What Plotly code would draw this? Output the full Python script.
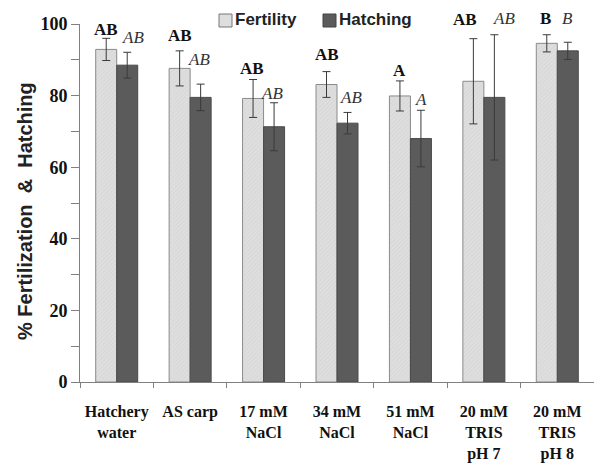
import plotly.graph_objects as go

categories = ["Hatchery<br>water", "AS carp", "17 mM<br>NaCl", "34 mM<br>NaCl",
              "51 mM<br>NaCl", "20 mM<br>TRIS<br>pH 7", "20 mM<br>TRIS<br>pH 8"]
fertility = [92.9, 87.6, 79.2, 83.1, 79.9, 84.0, 94.6]
fertility_err = [3.1, 4.9, 5.3, 3.6, 4.2, 11.9, 2.4]
hatching = [88.5, 79.5, 71.3, 72.3, 68.0, 79.5, 92.5]
hatching_err = [3.6, 3.7, 6.7, 3.0, 7.9, 17.5, 2.4]
fert_letters = ["AB", "AB", "AB", "AB", "A", "AB", "B"]
hatch_letters = ["AB", "AB", "AB", "AB", "A", "AB", "B"]
y_ticks = [0, 20, 40, 60, 80, 100]

# label placement (height of letter centres in axis units, pixel nudges)
fert_label_y = [98.6, 96.9, 87.6, 91.6, 87.0, 101.3, 101.4]
fert_label_dx = [0, 0, -1, 0, 0, -8, -1]
hatch_label_y = [96.1, 90.2, 80.7, 79.6, 78.8, 101.4, 101.4]
hatch_label_dx = [6, -2, -2, 3, 0, 10, 0]

x = list(range(len(categories)))
FERT_COLOR = "#dedede"
HATCH_COLOR = "#5b5b5b"
EDGE = "#8a8a8a"
ERR = "#3a3a3a"

fig = go.Figure()
fig.add_trace(go.Bar(
    x=x, y=fertility, name="Fertility",
    marker=dict(color=FERT_COLOR, line=dict(color=EDGE, width=1),
                pattern=dict(shape="/", size=3, solidity=0.25, fgcolor="#c4c4c4", bgcolor=FERT_COLOR)),
    error_y=dict(type="data", array=fertility_err, color=ERR, thickness=1, width=4),
    showlegend=False,
))
fig.add_trace(go.Bar(
    x=x, y=hatching, name="Hatching",
    marker=dict(color=HATCH_COLOR, line=dict(color="#4a4a4a", width=1)),
    error_y=dict(type="data", array=hatching_err, color=ERR, thickness=1, width=4),
    showlegend=False,
))

half = 0.143
annotations = []
for i in x:
    annotations.append(dict(x=i - half, y=fert_label_y[i] / 100.0, xref="x", yref="y domain",
                            xanchor="center", yanchor="middle",
                            text="<b>" + fert_letters[i] + "</b>", showarrow=False,
                            xshift=fert_label_dx[i],
                            font=dict(family="Liberation Serif", size=17, color="#111")))
    annotations.append(dict(x=i + half, y=hatch_label_y[i] / 100.0, xref="x", yref="y domain",
                            xanchor="center", yanchor="middle",
                            text="<i>" + hatch_letters[i] + "</i>", showarrow=False,
                            xshift=hatch_label_dx[i],
                            font=dict(family="Liberation Serif", size=17, color="#333")))

# manual legend
W, H = 514.0, 358.0
def px_x(p):
    return (p - 80) / W
def px_y(p):
    return (382 - p) / H

shapes = [
    dict(type="rect", xref="paper", yref="paper", x0=px_x(219), x1=px_x(232),
         y0=px_y(27), y1=px_y(14), fillcolor=FERT_COLOR, line=dict(color="#777", width=1)),
    dict(type="rect", xref="paper", yref="paper", x0=px_x(323), x1=px_x(336),
         y0=px_y(27), y1=px_y(14), fillcolor=HATCH_COLOR, line=dict(color="#444", width=1)),
]
annotations.append(dict(x=px_x(233), y=px_y(20), xref="paper", yref="paper",
                        text="<b>Fertility</b>", showarrow=False, xanchor="left", yanchor="middle",
                        font=dict(family="Liberation Sans", size=17, color="#222")))
annotations.append(dict(x=px_x(337), y=px_y(20), xref="paper", yref="paper",
                        text="<b>Hatching</b>", showarrow=False, xanchor="left", yanchor="middle",
                        font=dict(family="Liberation Sans", size=17, color="#222")))
# y-axis title
annotations.append(dict(x=px_x(25), y=px_y(211), xref="paper", yref="paper",
                        text="<b>% Fertilization  &  Hatching</b>", showarrow=False,
                        textangle=-90, xanchor="center", yanchor="middle",
                        font=dict(family="Liberation Sans", size=20, color="#222")))

fig.update_layout(
    width=594, height=464,
    margin=dict(l=80, r=0, t=24, b=82),
    paper_bgcolor="white", plot_bgcolor="white",
    barmode="group", bargap=0.428, bargroupgap=0,
    annotations=annotations, shapes=shapes,
    showlegend=False,
)
fig.update_xaxes(
    range=[-0.5, 6.5], tickvals=x, ticktext=categories,
    ticks="outside", ticklen=0, showgrid=False, zeroline=False,
    showline=True, linecolor="#808080", linewidth=1,
    minor=dict(tick0=0.5, dtick=1, ticks="outside", ticklen=5, tickcolor="#808080", showgrid=False),
    tickfont=dict(family="Liberation Serif", size=16, color="#111", weight="bold"),
    ticklabelstandoff=15, automargin=False,
)
fig.update_yaxes(
    range=[0, 100], tickvals=y_ticks, ticks="outside", ticklen=8, tickcolor="#808080",
    minor=dict(tick0=10, dtick=20, ticks="outside", ticklen=8, tickcolor="#808080", showgrid=False),
    showgrid=False, zeroline=False, showline=True, linecolor="#808080", linewidth=1,
    tickfont=dict(family="Liberation Serif", size=18, color="#111", weight="bold"),
    automargin=False,
)

fig.write_html("out.html", config={"displayModeBar": False},
               post_script="document.body.style.margin='0';")
